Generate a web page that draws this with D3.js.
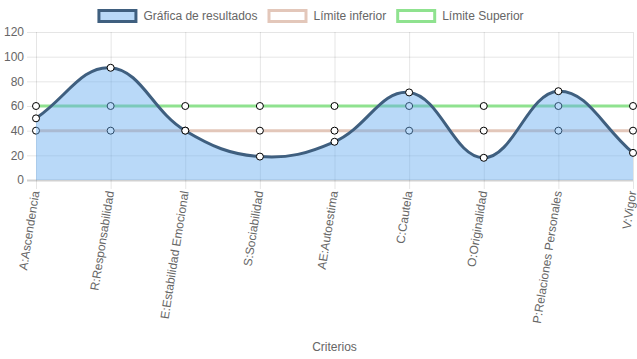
<!DOCTYPE html>
<html>
<head>
<meta charset="utf-8">
<script src="https://cdn.jsdelivr.net/npm/d3@7"></script>
<style>
html,body{margin:0;padding:0;background:#fff;}
svg{display:block;}
text{font-family:"Liberation Sans",Arial,Helvetica,sans-serif;}
</style>
</head>
<body>
<svg id="chart" width="637" height="359"></svg>
<script>
const categories = ["A:Ascendencia","R:Responsabilidad","E:Estabilidad Emocional","S:Sociabilidad","AE:Autoestima","C:Cautela","O:Originalidad","P:Relaciones Personales","V:Vigor"];
const resultados = [50, 91, 40, 19, 31, 71, 18, 72, 22];
const limiteInferior = [40, 40, 40, 40, 40, 40, 40, 40, 40];
const limiteSuperior = [60, 60, 60, 60, 60, 60, 60, 60, 60];
const yTicks = [0, 20, 40, 60, 80, 100, 120];
const legendLabels = ["Gráfica de resultados", "Límite inferior", "Límite Superior"];
const xTitle = "Criterios";

const W = 637, H = 359;
const m = {left: 36, right: 4, top: 32, bottom: 179};
const svg = d3.select("#chart");

const x = d3.scalePoint().domain(categories).range([m.left, W - m.right]);
const y = d3.scaleLinear().domain([0, 120]).range([H - m.bottom, m.top]);

const gridColor = "rgba(0,0,0,0.1)";
const tickColor = "#666";

svg.append("defs").append("clipPath").attr("id","clip")
  .append("rect").attr("x", m.left).attr("y", m.top - 6)
  .attr("width", W - m.right - m.left + 6).attr("height", H - m.bottom - m.top + 6);

// Y axis with gridlines
const yAxis = d3.axisLeft(y).tickValues(yTicks).tickSize(-(W - m.right - m.left)).tickPadding(12).tickFormat(d3.format("d"));
const gy = svg.append("g").attr("transform", `translate(${m.left},0)`).call(yAxis);
gy.select(".domain").remove();
gy.selectAll(".tick line").attr("stroke", gridColor).attr("x1", -9);
gy.selectAll(".tick").filter(d => d === 0).select("line").attr("stroke", "rgba(0,0,0,0.18)").attr("stroke-width", 2);
gy.selectAll(".tick text").attr("fill", tickColor).style("font-size", "12px");

// X axis with gridlines
const xAxis = d3.axisBottom(x).tickSize(0).tickFormat("");
const gx = svg.append("g").attr("transform", `translate(0,${H - m.bottom})`).call(xAxis);
gx.select(".domain").remove();
gx.selectAll(".tick line").attr("stroke", gridColor).attr("y1", -(H - m.bottom - m.top)).attr("y2", 9);
gx.selectAll(".tick").append("text")
  .attr("fill", tickColor).style("font-size", "12px")
  .attr("text-anchor", "end")
  .attr("dominant-baseline", "central")
  .attr("transform", "translate(-1,11) rotate(-81)")
  .text(d => d);

svg.append("text").attr("x", (m.left + W - m.right) / 2).attr("y", 351)
  .attr("text-anchor", "middle").attr("fill", tickColor).style("font-size", "12px").text(xTitle);

// Chart.js-like spline (tension 0.4)
const tension = 0.4;
function ptsOf(vals){ return vals.map((v,i) => ({x: x(categories[i]), y: y(v)})); }
function controlPoints(pts){
  const top = m.top, bottom = H - m.bottom, left = m.left, right = W - m.right;
  return pts.map((cur, i) => {
    const prev = pts[i-1] || cur, next = pts[i+1] || cur;
    const d01 = Math.hypot(cur.x-prev.x, cur.y-prev.y);
    const d12 = Math.hypot(next.x-cur.x, next.y-cur.y);
    let s01 = d01/(d01+d12), s12 = d12/(d01+d12);
    if (isNaN(s01)) s01 = 0; if (isNaN(s12)) s12 = 0;
    const fa = tension*s01, fb = tension*s12;
    const c = {
      p: {x: cur.x - fa*(next.x-prev.x), y: cur.y - fa*(next.y-prev.y)},
      n: {x: cur.x + fb*(next.x-prev.x), y: cur.y + fb*(next.y-prev.y)}
    };
    [c.p, c.n].forEach(q => {
      q.x = Math.max(left, Math.min(right, q.x));
      q.y = Math.max(top, Math.min(bottom, q.y));
    });
    return c;
  });
}
function curvePath(vals, closeToBase){
  const pts = ptsOf(vals), cps = controlPoints(pts);
  const p = d3.path();
  p.moveTo(pts[0].x, pts[0].y);
  for (let i = 1; i < pts.length; i++){
    p.bezierCurveTo(cps[i-1].n.x, cps[i-1].n.y, cps[i].p.x, cps[i].p.y, pts[i].x, pts[i].y);
  }
  if (closeToBase){
    p.lineTo(pts[pts.length-1].x, y(0));
    p.lineTo(pts[0].x, y(0));
    p.closePath();
  }
  return p.toString();
}

const series = [
  {vals: limiteSuperior, stroke: "#8fe28f", fill: null},
  {vals: limiteInferior, stroke: "#e3c7ba", fill: null},
  {vals: resultados, stroke: "#3f5f7f", fill: "rgba(100,170,240,0.45)"}
];

// draw in Chart.js order: last dataset first, each with fill, line, points
series.forEach(s => {
  const g = svg.append("g");
  const clipped = g.append("g").attr("clip-path", "url(#clip)");
  if (s.fill) clipped.append("path").attr("d", curvePath(s.vals, true)).attr("fill", s.fill).attr("stroke", "none");
  clipped.append("path").attr("d", curvePath(s.vals, false)).attr("fill", "none").attr("stroke", s.stroke).attr("stroke-width", 3);
  g.append("g").selectAll("circle").data(s.vals).join("circle")
    .attr("cx", (d,i) => x(categories[i])).attr("cy", d => y(d)).attr("r", 3.5)
    .attr("fill", "#fff").attr("stroke", "#000").attr("stroke-width", 1);
});

// Legend
const legend = svg.append("g");
const fontSize = 12, boxW = 40;
const tmp = svg.append("text").style("font-size", "12px");
const widths = legendLabels.map(t => { tmp.text(t); return tmp.node().getComputedTextLength(); });
tmp.remove();
const itemW = widths.map(w => boxW + fontSize/2 + w + 10);
const total = d3.sum(itemW);
let lx = (W - total)/2 - 3;
const legendStyles = [
  {fill: "rgba(100,170,240,0.45)", stroke: "#3f5f7f"},
  {fill: "#fff", stroke: "#e3c7ba"},
  {fill: "#fff", stroke: "#8fe28f"}
];
legendLabels.forEach((t, i) => {
  legend.append("rect").attr("x", lx + 1.5).attr("y", 10.5).attr("width", boxW - 3).attr("height", 11)
    .attr("fill", legendStyles[i].fill).attr("stroke", legendStyles[i].stroke).attr("stroke-width", 3);
  legend.append("text").attr("x", lx + boxW + fontSize/2).attr("y", 16).attr("dominant-baseline", "central")
    .attr("fill", tickColor).style("font-size", "12px").text(t);
  lx += itemW[i];
});
</script>
</body>
</html>
